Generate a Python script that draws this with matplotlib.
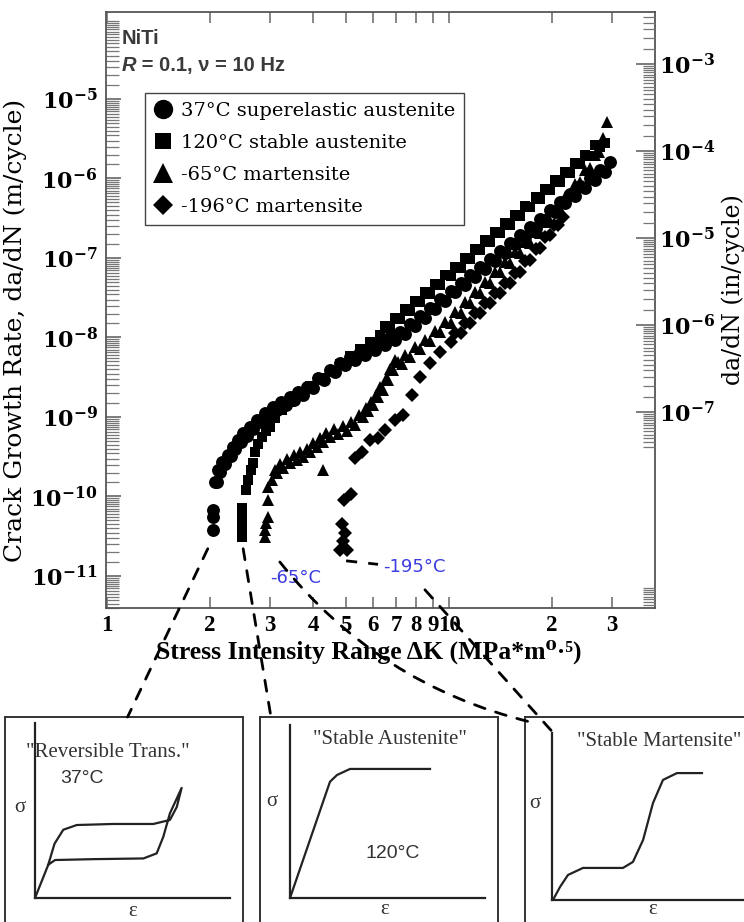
import matplotlib.pyplot as plt
import numpy as np
from matplotlib.patches import ConnectionPatch
from matplotlib.ticker import FixedLocator, FixedFormatter, NullLocator, LogLocator, NullFormatter

plt.rcParams["mathtext.fontset"] = "dejavuserif"

# ---------------------------------------------------------------------------
# Data (dK in MPa*m^0.5, da/dN in m/cycle)
# ---------------------------------------------------------------------------
circ_dk = [2.04, 2.04, 2.04, 2.07, 2.11, 2.17, 2.26, 2.33, 2.42, 2.50, 2.62, 2.75, 2.90,
           3.06, 3.23, 3.43, 3.62, 3.84, 4.14, 4.49, 4.80, 5.13, 5.49, 5.87, 6.29, 6.72,
           7.19, 7.69, 8.23, 8.80, 9.41, 10.1, 10.8, 11.5, 12.3, 13.2, 14.1, 15.1, 16.1,
           17.3, 18.5, 19.7, 21.1, 22.6, 24.2, 25.8, 27.6, 29.5]
circ_rate = [3.8e-11, 5.5e-11, 6.7e-11, 1.5e-10, 2.15e-10, 2.7e-10, 3.3e-10, 4.2e-10, 5.1e-10,
             6.3e-10, 7.5e-10, 9.2e-10, 1.12e-9, 1.34e-9, 1.55e-9, 1.79e-9, 2.06e-9, 2.38e-9,
             3.1e-9, 3.9e-9, 4.8e-9, 5.7e-9, 6.6e-9, 7.6e-9, 8.8e-9, 1.01e-8, 1.17e-8, 1.48e-8,
             1.86e-8, 2.35e-8, 3.05e-8, 3.85e-8, 4.85e-8, 6.1e-8, 7.7e-8, 9.7e-8, 1.22e-7,
             1.55e-7, 1.95e-7, 2.45e-7, 3.1e-7, 4.0e-7, 5.1e-7, 6.4e-7, 8.0e-7, 1.01e-6,
             1.28e-6, 1.61e-6]
# lower edge of the same scatter band
circ_dk_b = [2.09, 2.14, 2.21, 2.30, 2.37, 2.46, 2.56, 2.68, 2.82, 2.98, 3.14, 3.33, 3.52,
             3.73, 3.99, 4.31, 4.64, 4.96, 5.31, 5.68, 6.08, 6.50, 6.95, 7.44, 7.96, 8.51,
             9.10, 9.73, 10.4, 11.1, 11.9, 12.7, 13.6, 14.6, 15.6, 16.7, 17.9, 19.1, 20.4,
             21.8, 23.4, 25.0, 26.7, 28.5]
circ_rate_b = [1.5e-10, 2.05e-10, 2.55e-10, 3.2e-10, 3.9e-10, 4.8e-10, 5.8e-10, 7.1e-10, 8.6e-10,
               1.04e-9, 1.22e-9, 1.42e-9, 1.63e-9, 1.88e-9, 2.3e-9, 2.95e-9, 3.7e-9, 4.45e-9,
               5.2e-9, 6.0e-9, 6.95e-9, 8.0e-9, 9.2e-9, 1.12e-8, 1.41e-8, 1.78e-8, 2.28e-8,
               2.9e-8, 3.7e-8, 4.6e-8, 5.8e-8, 7.3e-8, 9.2e-8, 1.17e-7, 1.48e-7, 1.86e-7,
               2.35e-7, 3.0e-7, 3.8e-7, 4.85e-7, 6.1e-7, 7.6e-7, 9.7e-7, 1.22e-6]

sq_dk = [2.48, 2.48, 2.48, 2.48, 2.48, 2.55, 2.58, 2.64, 2.67, 2.71, 2.76, 2.84, 2.92, 3.00,
         3.10, 3.25, 3.43, 3.67, 3.92, 4.20, 4.49, 4.80, 5.13, 5.49, 5.87, 6.29, 6.72, 7.19,
         7.69, 8.23, 8.80, 9.41, 10.1, 10.8, 11.5, 12.3, 13.2, 14.1, 15.1, 16.1, 17.3, 18.5,
         19.7, 21.1, 22.6, 24.2, 25.8, 27.6, 28.5]
sq_rate = [3.1e-11, 3.8e-11, 4.8e-11, 5.8e-11, 7.2e-11, 1.21e-10, 1.61e-10, 2.15e-10, 2.64e-10,
           3.6e-10, 4.6e-10, 5.6e-10, 6.7e-10, 7.5e-10, 9.7e-10, 1.22e-9, 1.55e-9, 1.95e-9,
           2.45e-9, 3.1e-9, 3.7e-9, 4.6e-9, 5.9e-9, 7.2e-9, 8.8e-9, 1.07e-8, 1.31e-8, 1.71e-8,
           2.15e-8, 2.8e-8, 3.5e-8, 4.6e-8, 5.9e-8, 7.5e-8, 9.7e-8, 1.26e-7, 1.59e-7, 2.06e-7,
           2.6e-7, 3.4e-7, 4.4e-7, 5.5e-7, 7.2e-7, 9.0e-7, 1.17e-6, 1.52e-6, 1.92e-6, 2.5e-6,
           2.8e-6]
sq_dk_b = [6.50, 6.95, 7.44, 7.96, 8.51, 9.10, 9.73, 10.4, 11.1, 11.9, 12.7, 13.6, 14.6,
           15.6, 16.7, 17.9, 19.1, 20.4, 21.8, 23.4, 25.0, 26.7]
sq_rate_b = [1.4e-8, 1.77e-8, 2.26e-8, 2.9e-8, 3.7e-8, 4.7e-8, 6.1e-8, 7.8e-8, 1.0e-7, 1.3e-7,
             1.67e-7, 2.13e-7, 2.73e-7, 3.5e-7, 4.57e-7, 5.8e-7, 7.4e-7, 9.5e-7, 1.21e-6,
             1.57e-6, 2.0e-6, 2.6e-6]

tri_dk = [2.90, 2.90, 2.92, 2.95, 2.96, 2.96, 3.04, 3.14, 3.27, 3.43, 3.59, 3.74, 3.92, 4.11,
          4.28, 4.28, 4.49, 4.74, 5.03, 5.31, 5.61, 5.80, 6.00, 6.20, 6.41, 6.63, 6.86, 7.09,
          7.43, 7.96, 8.51, 9.10, 9.73, 10.4, 11.1, 11.9, 12.7, 13.6, 14.6, 15.6, 16.7, 17.8,
          19.1, 20.4, 21.8, 23.4, 25.0, 26.7, 28.2, 29.0]
tri_rate = [3.1e-11, 3.8e-11, 4.6e-11, 5.5e-11, 9.0e-11, 1.32e-10, 1.61e-10, 1.98e-10, 2.28e-10,
            2.64e-10, 2.88e-10, 3.14e-10, 3.6e-10, 4.2e-10, 4.85e-10, 2.15e-10, 5.6e-10, 6.1e-10,
            6.7e-10, 7.9e-10, 1.0e-9, 1.19e-9, 1.42e-9, 1.79e-9, 2.19e-9, 2.92e-9, 3.9e-9, 4.9e-9,
            6.0e-9, 7.6e-9, 9.3e-9, 1.21e-8, 1.57e-8, 2.09e-8, 2.8e-8, 3.7e-8, 5.0e-8, 6.7e-8,
            8.9e-8, 1.19e-7, 1.59e-7, 2.12e-7, 2.84e-7, 4.0e-7, 5.8e-7, 8.5e-7, 1.28e-6, 1.98e-6,
            3.2e-6, 5.1e-6]
tri_dk_b = [3.09, 3.20, 3.35, 3.51, 3.66, 3.83, 4.01, 4.20, 4.38, 4.61, 4.88, 5.17, 5.46,
            5.70, 5.90, 6.10, 6.30, 6.52, 6.74, 6.97, 7.26, 7.69, 8.23, 8.80, 9.41, 10.1,
            10.8, 11.5, 12.3, 13.2, 14.1, 15.1, 16.1, 17.3, 18.5, 19.7, 21.1, 22.6, 24.2,
            25.8, 27.4]
tri_rate_b = [2.15e-10, 2.55e-10, 2.95e-10, 3.3e-10, 3.6e-10, 4.0e-10, 4.65e-10, 5.4e-10,
              6.25e-10, 7.0e-10, 7.7e-10, 8.7e-10, 1.07e-9, 1.31e-9, 1.56e-9, 1.9e-9, 2.38e-9,
              3.0e-9, 4.0e-9, 5.2e-9, 4.6e-9, 5.7e-9, 7.1e-9, 9.0e-9, 1.17e-8, 1.54e-8, 2.06e-8,
              2.74e-8, 3.66e-8, 4.9e-8, 6.6e-8, 8.75e-8, 1.17e-7, 1.56e-7, 2.09e-7, 2.87e-7,
              4.1e-7, 6.0e-7, 8.9e-7, 1.35e-6, 2.14e-6]

dia_dk = [4.80, 5.03, 4.90, 4.97, 4.86, 4.93, 5.17, 5.31, 5.57, 5.87, 6.20, 6.50, 6.95, 7.34,
          7.80, 8.23, 8.80, 9.41, 10.1, 10.8, 11.5, 12.3, 13.2, 14.1, 15.1, 16.1, 17.3, 18.5,
          19.7, 20.8, 21.5]
dia_rate = [2.12e-11, 2.12e-11, 2.75e-11, 3.5e-11, 4.5e-11, 9.0e-11, 1.07e-10, 3.05e-10, 3.6e-10,
            5.1e-10, 5.4e-10, 6.9e-10, 9.2e-10, 1.06e-9, 1.89e-9, 3.2e-9, 4.8e-9, 6.6e-9, 8.8e-9,
            1.14e-8, 1.52e-8, 2.03e-8, 2.72e-8, 3.6e-8, 4.85e-8, 6.7e-8, 9.4e-8, 1.34e-7, 1.95e-7,
            2.6e-7, 3.3e-7]
dia_dk_b = [10.4, 11.1, 11.9, 12.7, 13.6, 14.6, 15.6, 16.7, 17.9, 19.1, 20.2]
dia_rate_b = [1.15e-8, 1.52e-8, 2.02e-8, 2.7e-8, 3.6e-8, 4.8e-8, 6.55e-8, 9.1e-8, 1.29e-7,
              1.86e-7, 2.6e-7]

series_labels = ["37\u00b0C superelastic austenite", "120\u00b0C stable austenite",
                 "-65\u00b0C martensite", "-196\u00b0C martensite"]

x_ticks = [1, 2, 3, 4, 5, 6, 7, 8, 9, 10, 20, 30]
x_ticklabels = ["1", "2", "3", "4", "5", "6", "7", "8", "9", "10", "2", "3"]
left_exps = [-11, -10, -9, -8, -7, -6, -5]
right_exps = [-7, -6, -5, -4, -3]

# schematic stress-strain curves for the three insets (normalised strain, stress)
rev_strain = [0.0, 0.068, 0.10, 0.145, 0.214, 0.40, 0.607, 0.692, 0.727, 0.752,
              0.692, 0.658, 0.624, 0.556, 0.30, 0.103, 0.068]
rev_stress = [0.0, 0.19, 0.31, 0.39, 0.417, 0.423, 0.423, 0.446, 0.52, 0.629,
              0.484, 0.35, 0.255, 0.226, 0.222, 0.217, 0.19]
aus_strain = [0.0, 0.205, 0.241, 0.308, 0.718]
aus_stress = [0.0, 0.672, 0.711, 0.746, 0.746]
mart_strain = [0.005, 0.041, 0.082, 0.159, 0.364, 0.415, 0.467, 0.518, 0.569, 0.641, 0.769]
mart_stress = [0.0, 0.078, 0.15, 0.192, 0.192, 0.228, 0.359, 0.581, 0.719, 0.760, 0.760]

# ---------------------------------------------------------------------------
W, H = 744, 922
fig = plt.figure(figsize=(W / 100, H / 100), dpi=100)
fig.patch.set_facecolor("white")

ax = fig.add_axes([106 / W, 1 - 608 / H, 549 / W, 596 / H])
ax.set_xscale("log")
ax.set_yscale("log")
ax.set_xlim(0.993, 40.0)
ax.set_ylim(10 ** -11.403, 10 ** -3.906)

ms = 9.3
ax.plot(circ_dk, circ_rate, "o", color="black", ms=ms, mew=0, label=series_labels[0])
ax.plot(sq_dk, sq_rate, "s", color="black", ms=ms * 0.85, mew=0, label=series_labels[1])
ax.plot(tri_dk, tri_rate, "^", color="black", ms=ms, mew=0, label=series_labels[2])
ax.plot(dia_dk, dia_rate, "D", color="black", ms=ms * 0.72, mew=0, label=series_labels[3])
ax.plot(circ_dk_b, circ_rate_b, "o", color="black", ms=ms, mew=0)
ax.plot(sq_dk_b, sq_rate_b, "s", color="black", ms=ms * 0.85, mew=0)
ax.plot(tri_dk_b, tri_rate_b, "^", color="black", ms=ms, mew=0)
ax.plot(dia_dk_b, dia_rate_b, "D", color="black", ms=ms * 0.72, mew=0)

spine_c = "#555555"
for s in ax.spines.values():
    s.set_color(spine_c)
    s.set_linewidth(1.3)

ax.xaxis.set_major_locator(FixedLocator(x_ticks))
ax.xaxis.set_major_formatter(FixedFormatter(x_ticklabels))
ax.xaxis.set_minor_locator(NullLocator())
ax.tick_params(axis="x", which="major", direction="in", length=8, width=1.1, color="#666666",
               top=True, pad=5, labelsize=16.5)
for lab in ax.get_xticklabels():
    lab.set_fontfamily("Liberation Serif")
    lab.set_fontweight("bold")

ax.yaxis.set_major_locator(FixedLocator([10.0 ** e for e in left_exps]))
ax.yaxis.set_major_formatter(FixedFormatter([r"$\mathbf{10^{%d}}$" % e for e in left_exps]))
ax.yaxis.set_minor_locator(LogLocator(base=10, subs=np.arange(1.5, 10, 0.5), numticks=30))
ax.yaxis.set_minor_formatter(NullFormatter())
ax.tick_params(axis="y", which="major", direction="in", length=11, width=1.2, color="#666666",
               pad=6, labelsize=16)
ax.tick_params(axis="y", which="minor", direction="in", length=9, width=0.9, color="#777777")

ax.set_xlabel("Stress Intensity Range \u0394K (MPa*m\u2070\u00b7\u2075)",
              fontfamily=["Liberation Serif", "DejaVu Serif"], fontweight="bold", fontsize=18.5)
ax.xaxis.label.set_va("center")
ax.xaxis.set_label_coords(0.479, -0.074)
ax.set_ylabel("Crack Growth Rate, da/dN (m/cycle)", fontfamily="DejaVu Serif", fontsize=18)
ax.yaxis.label.set_va("center")
ax.yaxis.set_label_coords(-0.165, 0.466)

# right axis in in/cycle
ax2 = ax.twinx()
ax2.set_yscale("log")
ax2.set_ylim(10 ** -9.253, 10 ** -2.402)
ax2.yaxis.set_major_locator(FixedLocator([10.0 ** e for e in right_exps]))
ax2.yaxis.set_major_formatter(FixedFormatter([r"$\mathbf{10^{%d}}$" % e for e in right_exps]))
minor_r = [s * 10.0 ** e for e in range(-8, -2) for s in np.arange(1.5, 10, 0.5)]
minor_r = [v for v in minor_r if v > 3.5e-8] + [s * 1e-10 for s in (6, 6.5, 7, 7.5, 8, 8.5, 9, 9.5)]
ax2.yaxis.set_minor_locator(FixedLocator(minor_r))
ax2.yaxis.set_minor_formatter(NullFormatter())
ax2.tick_params(axis="y", which="major", direction="in", length=14, width=1.2, color="#666666",
                pad=3, labelsize=16)
ax2.tick_params(axis="y", which="minor", direction="in", length=9, width=0.9, color="#777777")
for s in ax2.spines.values():
    s.set_visible(False)
ax2.set_ylabel("da/dN (in/cycle)", fontfamily="DejaVu Serif", fontsize=17)
ax2.yaxis.label.set_va("center")
ax2.yaxis.set_label_coords(1.142, 0.534)

# header text
hdr = dict(fontfamily="Liberation Sans", fontweight="bold", fontsize=14.5, color="#3a3a3a",
           va="center")
ax.text(0.029, 0.956, "NiTi", transform=ax.transAxes, **hdr)
ax.text(0.029, 0.911, "R", transform=ax.transAxes, fontstyle="italic", **hdr)
ax.annotate(" = 0.1, \u03bd = 10 Hz", xy=(0.029, 0.911), xycoords="axes fraction",
            xytext=(10, 0), textcoords="offset points", **hdr)

leg = ax.legend(loc="upper left", bbox_to_anchor=(0.071, 0.864), borderaxespad=0,
                prop={"family": "DejaVu Serif", "size": 14}, markerscale=1.5,
                handlelength=1.0, handletextpad=0.4, labelspacing=0.72, borderpad=0.45,
                fancybox=False, framealpha=1)
leg.get_frame().set_edgecolor("#444444")
leg.get_frame().set_linewidth(1.0)

# blue annotations
blue = "#3d3de0"
ax.text(3.57, 9.4e-12, "-65\u00b0C", color=blue, fontfamily="DejaVu Sans", fontsize=13,
        ha="center", va="center")
ax.text(7.9, 1.3e-11, "-195\u00b0C", color=blue, fontfamily="DejaVu Sans", fontsize=13,
        ha="center", va="center")
ax.plot([5.0, 6.2], [1.55e-11, 1.4e-11], color="black", lw=2, ls=(0, (4, 4)))

# ---------------------------------------------------------------------------
# Inset boxes
# ---------------------------------------------------------------------------
def make_box(x0, title, tx, ty):
    box = fig.add_axes([x0 / W, 1 - 940 / H, 238 / W, 223 / H])
    box.set_xticks([])
    box.set_yticks([])
    for s in box.spines.values():
        s.set_color("#333333")
        s.set_linewidth(1.4)
    box.text(tx, ty, title, transform=box.transAxes, ha="center", va="center",
             fontfamily="Liberation Serif", fontsize=15, color="#333333")
    return box


def make_inner(x0, top, bottom):
    inner = fig.add_axes([x0 / W, 1 - bottom / H, 195 / W, (bottom - top) / H])
    inner.set_xlim(0, 1)
    inner.set_ylim(0, 1)
    inner.set_xticks([])
    inner.set_yticks([])
    inner.patch.set_alpha(0)
    inner.spines["top"].set_visible(False)
    inner.spines["right"].set_visible(False)
    for k in ("left", "bottom"):
        inner.spines[k].set_color("#222222")
        inner.spines[k].set_linewidth(1.6)
    return inner


box1 = make_box(5, '"Reversible Trans."', 0.43, 0.843)
box2 = make_box(260, '"Stable Austenite"', 0.546, 0.897)
box3 = make_box(525, '"Stable Martensite"', 0.563, 0.888)

in1 = make_inner(35, 723, 898)
in2 = make_inner(290, 725, 898)
in3 = make_inner(552, 733, 900)
for inner, xs, ys in ((in1, rev_strain, rev_stress), (in2, aus_strain, aus_stress),
                      (in3, mart_strain, mart_stress)):
    inner.plot(xs, ys, color="#222222", lw=1.6, solid_joinstyle="round")

for box, sx, sy, ex, ey in ((box1, 0.063, 0.596, 0.536, 0.126),
                            (box2, 0.05, 0.619, 0.525, 0.135),
                            (box3, 0.042, 0.614, 0.538, 0.135)):
    box.text(sx, sy, "\u03c3", transform=box.transAxes, ha="center", va="center",
             fontfamily="Liberation Serif", fontsize=15, color="#333333")
    box.text(ex, ey, "\u03b5", transform=box.transAxes, ha="center", va="center",
             fontfamily="Liberation Serif", fontsize=15, color="#333333")

box1.text(0.325, 0.726, "37\u00b0C", transform=box1.transAxes, ha="center", va="center",
          fontfamily="Liberation Sans", fontsize=14, color="#333333")
box2.text(0.559, 0.39, "120\u00b0C", transform=box2.transAxes, ha="center", va="center",
          fontfamily="Liberation Sans", fontsize=14, color="#333333")

# dashed connectors from thresholds to the insets
dash = (0, (4, 4))
for xyA, box, xyB, rad in (((1.97, 2.2e-11), box1, (0.515, 1.0), 0.0),
                           ((2.50, 2.2e-11), box2, (0.046, 1.0), 0.0),
                           ((3.2, 1.5e-11), box3, (0.021, 0.978), 0.17),
                           ((8.5, 6.7e-12), box3, (0.118, 0.93), 0.0)):
    con = ConnectionPatch(xyA=xyA, coordsA=ax.transData, xyB=xyB, coordsB=box.transAxes,
                          color="black", lw=2, linestyle=dash,
                          connectionstyle="arc3,rad=%g" % rad)
    fig.add_artist(con)

fig.savefig("out.png", dpi=100, facecolor="white")
